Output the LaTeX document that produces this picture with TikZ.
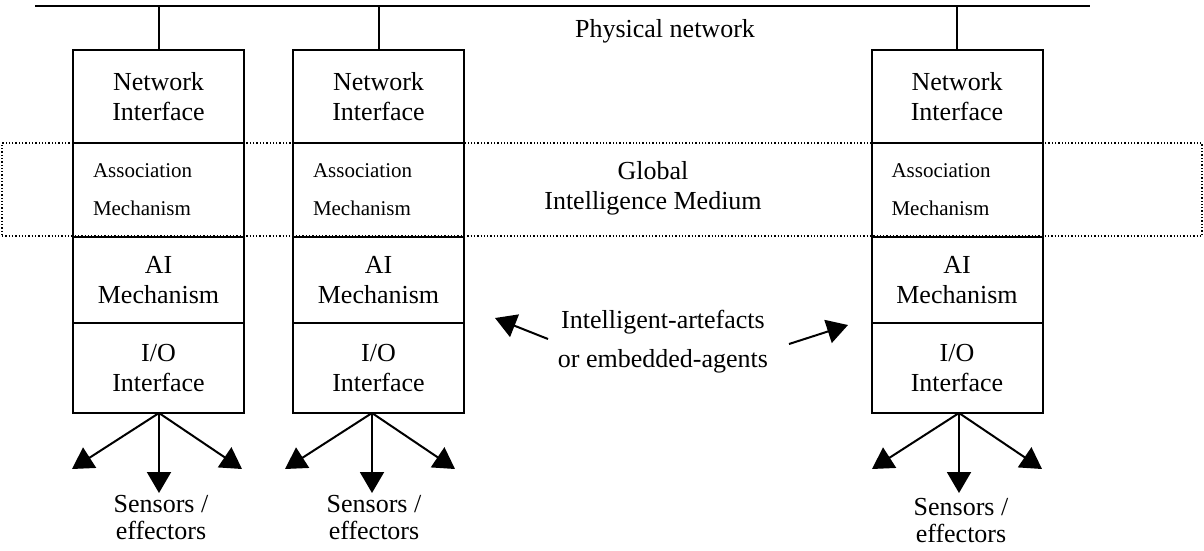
\documentclass[tikz,border=0pt]{standalone}
\usepackage{fontspec}
\setmainfont{Liberation Serif}
\usetikzlibrary{arrows.meta}
\begin{document}
\begin{tikzpicture}[x=1pt,y=-1pt,
  line width=2pt,
  sect/.style={draw,line width=2pt,minimum width=171pt,inner sep=0pt,align=center,
    font=\fontsize{26}{30}\selectfont},
  assoc/.style={draw,line width=2pt,minimum width=171pt,minimum height=94pt,inner xsep=20pt,
    inner ysep=0pt,text width=131pt,align=left,font=\fontsize{21}{38}\selectfont},
  lbl/.style={align=center,inner sep=0pt,font=\fontsize{26}{30}\selectfont},
  sens/.style={align=center,inner sep=0pt,font=\fontsize{26}{27}\selectfont},
  tri/.style={-{Triangle[length=21pt,width=24pt]},line width=2pt},
  medium/.style={draw,dotted,line width=1.3pt}]
\useasboundingbox (0,0) rectangle (1204,550);

% global intelligence medium (dotted band)
\node[medium,minimum width=1200pt,minimum height=93pt,inner sep=0pt] (gim) at (602,189.5) {};

% physical network line
\coordinate (netL) at (35,6);
\coordinate (netR) at (1090,6);
\draw (netL) -- (netR);
\node[lbl] (phys) at (665,31) {Physical network};

% stacks
\foreach \i/\x in {1/158.5,2/378.5,3/957}{
  \node[sect,minimum height=93pt] (ni\i) at (\x,96.5) {Network\\Interface};
  \node[assoc] (am\i) at (\x,190) {Association\\Mechanism};
  \node[sect,minimum height=86pt] (ai\i) at (\x,280) {AI\\Mechanism};
  \node[sect,minimum height=90pt] (io\i) at (\x,368) {I/O\\Interface};
  \draw (ni\i.north) -- (ni\i.north |- netL);
}

\node[lbl] (gimtext) at (653,188) {Global\\Intelligence Medium};

% sensor arrows
\foreach \i/\o/\s in {1/159/0,2/372/0,3/959/3}{
  \coordinate (o\i) at (\o,413);
  \coordinate (l\i) at (\o-87,469);
  \coordinate (r\i) at (\o+83,469);
  \coordinate (d\i) at (\o,493);
  \draw[tri] (o\i) -- (l\i);
  \draw[tri] (o\i) -- (d\i);
  \draw[tri] (o\i) -- (r\i);
  \node[sens] (se\i) at (\o+2,518+\s) {Sensors /\\effectors};
}

% intelligent artefacts label
\node[lbl,font=\fontsize{26}{39}\selectfont] (ia) at (663,342) {Intelligent-artefacts\\or embedded-agents};
\coordinate (iaL) at (495,318);
\coordinate (iaR) at (848,325);
\draw[tri] (548,339) -- (iaL);
\draw[tri] (789,344) -- (iaR);
\end{tikzpicture}
\end{document}
